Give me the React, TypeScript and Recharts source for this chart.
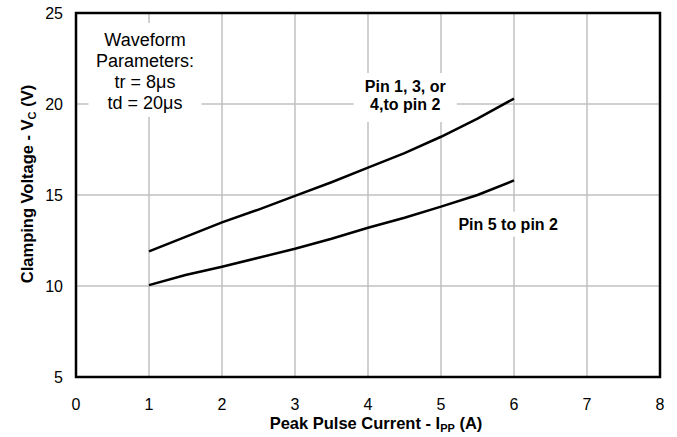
import { CartesianGrid, Label, Line, LineChart, ReferenceArea, ReferenceDot, XAxis, YAxis } from 'recharts';

const xTicks = [0, 1, 2, 3, 4, 5, 6, 7, 8];
const yTicks = [5, 10, 15, 20, 25];

// Pin 1, 3, or 4 to pin 2
const pin134Current = [1, 1.5, 2, 2.5, 3, 3.5, 4, 4.5, 5, 5.5, 6];
const pin134Voltage = [11.9, 12.7, 13.5, 14.2, 14.95, 15.7, 16.5, 17.3, 18.2, 19.2, 20.3];

// Pin 5 to pin 2
const pin5Current = [1, 1.5, 2, 2.5, 3, 3.5, 4, 4.5, 5, 5.5, 6];
const pin5Voltage = [10.05, 10.6, 11.06, 11.55, 12.05, 12.6, 13.2, 13.75, 14.36, 15.0, 15.8];

const upper = pin134Current.map((x, i) => ({ x, v: pin134Voltage[i] }));
const lower = pin5Current.map((x, i) => ({ x, v: pin5Voltage[i] }));

const font = 'Liberation Sans, Arial, sans-serif';

function Note({ cx, cy, lines, w, h, bold, size, lh, by }: any) {
  const top = cy - ((lines.length - 1) * lh) / 2;
  return (
    <g>
      <rect x={cx - w / 2} y={by - h / 2} width={w} height={h} fill="#fff" />
      {lines.map((t: string, i: number) => (
        <text
          key={i}
          x={cx}
          y={top + i * lh}
          textAnchor="middle"
          dominantBaseline="central"
          fontFamily={font}
          fontSize={size}
          fontWeight={bold ? 'bold' : 'normal'}
          fill="#000"
        >
          {t}
        </text>
      ))}
    </g>
  );
}

export default function App() {
  return (
    <div style={{ position: 'absolute', left: 0, top: 0 }}>
      <LineChart width={677} height={437} margin={{ top: 13, right: 17, bottom: 30, left: 36 }}>
        <CartesianGrid stroke="#c0c0c0" strokeWidth={1.5} />
        <XAxis
          type="number"
          dataKey="x"
          domain={[0, 8]}
          ticks={xTicks}
          allowDuplicatedCategory={false}
          axisLine={false}
          tickLine={false}
          tickSize={0}
          tickMargin={22}
          tick={{ fill: '#000', fontSize: 16, fontFamily: font }}
          height={30}
        >
          <Label
            content={() => (
              <text x={376} y={429} textAnchor="middle" fontFamily={font} fontSize={16.5} fontWeight="bold" fill="#000">
                Peak Pulse Current - I
                <tspan fontSize={11} dy={3}>PP</tspan>
                <tspan dy={-3}> (A)</tspan>
              </text>
            )}
          />
        </XAxis>
        <YAxis
          type="number"
          dataKey="v"
          domain={[5, 25]}
          ticks={yTicks}
          axisLine={false}
          tickLine={false}
          tickSize={0}
          tickMargin={13}
          width={40}
          tick={{ fill: '#000', fontSize: 16, fontFamily: font }}
        >
          <Label
            content={() => (
              <text
                x={0}
                y={0}
                transform="translate(33,184) rotate(-90)"
                textAnchor="middle"
                fontFamily={font}
                fontSize={16.5}
                fontWeight="bold"
                fill="#000"
              >
                Clamping Voltage - V
                <tspan fontSize={11} dy={3}>C</tspan>
                <tspan dy={-3}> (V)</tspan>
              </text>
            )}
          />
        </YAxis>
        <Line data={upper} dataKey="v" type="linear" stroke="#000" strokeWidth={2.5} dot={false} isAnimationActive={false} />
        <Line data={lower} dataKey="v" type="linear" stroke="#000" strokeWidth={2.5} dot={false} isAnimationActive={false} />
        <ReferenceArea x1={0} x2={8} y1={5} y2={25} fill="none" stroke="#000" strokeWidth={2.5} ifOverflow="visible" />
        <ReferenceDot
          x={0.945}
          y={21.79}
          ifOverflow="visible"
          shape={(p: any) => (
            <Note cx={p.cx} cy={p.cy} by={p.cy - 1.5} w={113} h={94} size={18} lh={21} lines={['Waveform', 'Parameters:', 'tr = 8μs', 'td = 20μs']} />
          )}
        />
        <ReferenceDot
          x={4.51}
          y={20.44}
          ifOverflow="visible"
          shape={(p: any) => (
            <Note cx={p.cx} cy={p.cy} by={p.cy + 1.5} w={103} h={49} size={16} lh={18} bold lines={['Pin 1, 3, or', '4,to pin 2']} />
          )}
        />
        <ReferenceDot
          x={5.92}
          y={13.4}
          ifOverflow="visible"
          shape={(p: any) => (
            <Note cx={p.cx} cy={p.cy} by={p.cy} w={112} h={25} size={16} lh={18} bold lines={['Pin 5 to pin 2']} />
          )}
        />
      </LineChart>
    </div>
  );
}
